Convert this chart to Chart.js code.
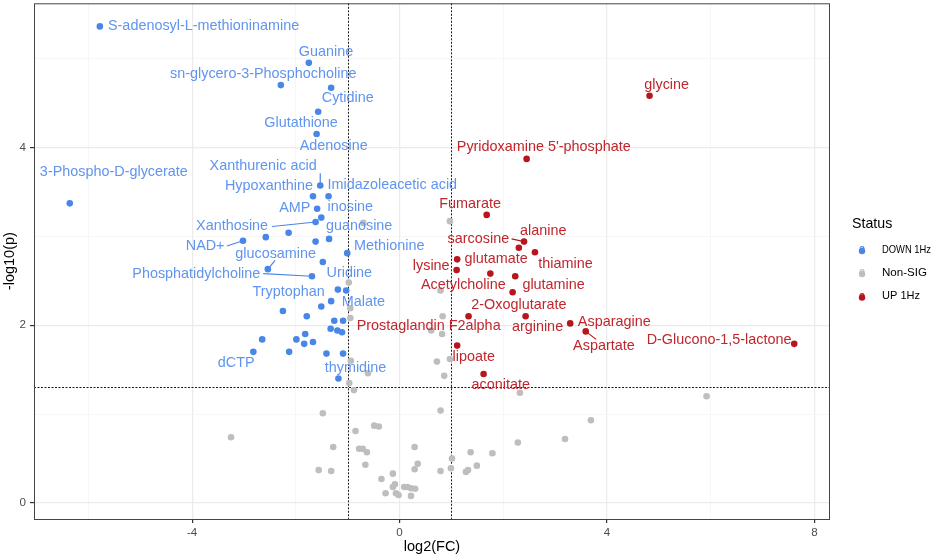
<!DOCTYPE html>
<html>
<head>
<meta charset="utf-8">
<script src="https://cdn.jsdelivr.net/npm/chart.js@4.4.0/dist/chart.umd.min.js"></script>
<style>
  body { margin: 0; background: #fff; }
  #wrap { width: 941px; height: 557px; position: relative; }
</style>
</head>
<body>
<div id="wrap"><canvas id="chart"></canvas></div>
<script>
// log2(FC) / -log10(p) per status group
var downX = [-5.78, -1.75, -2.29, -1.32, -1.57, -1.60, -6.36, -1.53, -1.67, -1.37, -1.59, -1.51, -1.62, -2.14, -2.58,
  -3.02, -1.36, -1.62, -1.01, -1.48, -2.54, -1.69, -1.19, -1.03, -1.32, -1.51, -2.25, -1.79, -1.26, -1.09,
  -1.33, -1.20, -1.11, -1.82, -2.65, -1.99, -1.84, -1.67, -2.82, -2.13, -1.41, -1.09, -1.18];
var downY = [5.36, 4.95, 4.70, 4.67, 4.40, 4.15, 3.37, 3.57, 3.45, 3.45, 3.31, 3.21, 3.16, 3.04, 2.99,
  2.95, 2.97, 2.94, 2.81, 2.71, 2.63, 2.55, 2.40, 2.39, 2.27, 2.21, 2.16, 2.10, 2.05, 2.05,
  1.96, 1.94, 1.92, 1.90, 1.84, 1.84, 1.79, 1.81, 1.70, 1.70, 1.68, 1.68, 1.40];

var upX = [4.82, 2.45, 1.68, 2.40, 2.30, 2.61, 1.11, 1.10, 1.75, 2.23, 2.18, 1.33, 2.43, 3.29, 3.59, 7.61, 1.11, 1.62];
var upY = [4.58, 3.87, 3.24, 2.94, 2.87, 2.82, 2.74, 2.62, 2.58, 2.55, 2.37, 2.10, 2.10, 2.02, 1.93, 1.79, 1.77, 1.45];

var nsX = [-0.70, 0.97, -0.98, 0.79, -0.95, -0.95, 0.83, 0.61, 0.82, -0.94, 0.72, 0.97, -0.61, 0.86, -0.97,
  -0.88, 2.32, 5.92, -1.48, 0.79, 3.69, -0.49, -0.40, -0.85, -3.25, 3.19, 2.28, -1.28, -0.78, -0.71,
  -0.63, 0.29, 1.37, 1.79, 1.01, 0.35, -0.66, 1.49, -1.56, -1.32, 0.29, 0.99, 0.79, 1.28, 1.32,
  -0.13, -0.35, -0.09, -0.13, -0.27, -0.07, -0.02, 0.09, 0.15, 0.22, 0.30, 0.22];
var nsY = [3.15, 3.17, 2.48, 2.39, 2.19, 2.08, 2.10, 1.94, 1.90, 1.60, 1.59, 1.62, 1.46, 1.43, 1.35,
  1.27, 1.24, 1.20, 1.01, 1.04, 0.93, 0.87, 0.86, 0.81, 0.74, 0.72, 0.68, 0.63, 0.61, 0.61,
  0.57, 0.63, 0.57, 0.56, 0.50, 0.44, 0.43, 0.42, 0.37, 0.36, 0.38, 0.39, 0.36, 0.35, 0.37,
  0.33, 0.27, 0.21, 0.18, 0.11, 0.11, 0.09, 0.18, 0.18, 0.165, 0.16, 0.08];

// thresholds
var fcCut = [-1, 1];
var pCut = 1.30103;

// ticks
var xTickLabels = [-4, 0, 4, 8];
var yTickLabels = [0, 2, 4];

// repelled text labels (text centre, data units)
var downNames = ['S-adenosyl-L-methioninamine', 'Guanine', 'sn-glycero-3-Phosphocholine', 'Cytidine', 'Glutathione',
  'Adenosine', '3-Phospho-D-glycerate', 'Xanthurenic acid', 'Hypoxanthine', 'Imidazoleacetic acid', 'AMP', 'inosine',
  'Xanthosine', 'guanosine', 'NAD+', 'Methionine', 'glucosamine', 'Phosphatidylcholine', 'Uridine', 'Tryptophan',
  'Malate', 'dCTP', 'thymidine'];
var downNameX = [-3.78, -1.42, -2.63, -1.00, -1.90, -1.27, -5.51, -2.63, -2.52, -0.14, -2.02, -0.95,
  -3.23, -0.78, -3.75, -0.20, -2.39, -3.92, -0.97, -2.14, -0.70, -3.15, -0.85];
var downNameY = [5.36, 5.07, 4.82, 4.55, 4.27, 4.02, 3.72, 3.79, 3.57, 3.58, 3.32, 3.33,
  3.11, 3.11, 2.89, 2.89, 2.80, 2.58, 2.59, 2.37, 2.26, 1.57, 1.52];

var upNames = ['glycine', "Pyridoxamine 5'-phosphate", 'Fumarate', 'alanine', 'sarcosine', 'glutamate', 'thiamine',
  'lysine', 'Acetylcholine', 'glutamine', '2-Oxoglutarate', 'arginine', 'Asparagine', 'Aspartate',
  'D-Glucono-1,5-lactone', 'Prostaglandin F2alpha', 'lipoate', 'aconitate'];
var upNameX = [5.15, 2.78, 1.36, 2.77, 1.52, 1.86, 3.20, 0.61, 1.23, 2.97, 2.30, 2.66, 4.14, 3.94, 6.16, 0.56, 1.43, 1.95];
var upNameY = [4.70, 4.00, 3.36, 3.06, 2.97, 2.74, 2.69, 2.67, 2.45, 2.45, 2.23, 1.98, 2.04, 1.76, 1.83, 1.99, 1.64, 1.33];

// leader segments [x1, y1, x2, y2]
var downLeaders = [[-1.53, 3.71, -1.53, 3.57], [-2.46, 3.11, -1.62, 3.16], [-3.33, 2.89, -3.02, 2.95],
  [-2.40, 2.73, -2.54, 2.63], [-2.63, 2.58, -1.69, 2.55]];
var upLeaders = [[2.16, 2.97, 2.40, 2.94], [3.59, 1.93, 3.79, 1.84]];

var statusNames = ['DOWN 1Hz', 'Non-SIG', 'UP 1Hz'];

var FONT = "'Liberation Sans', Arial, sans-serif";
var BLUE = '#4a86e8', BLUE_TXT = '#6094ee';
var GREY = '#bebebe';
var RED = '#b8161c', RED_TXT = '#c0262c';

function pts(xs, ys) {
  return xs.map(function (x, i) { return { x: x, y: ys[i] }; });
}

function isMajor(v, step) {
  return Math.abs(v / step - Math.round(v / step)) < 1e-6;
}

var overlay = {
  id: 'overlay',
  beforeDatasetsDraw: function (chart) {
    var ctx = chart.ctx, a = chart.chartArea, xs = chart.scales.x, ys = chart.scales.y;
    ctx.save();
    ctx.strokeStyle = '#1a1a1a';
    ctx.lineWidth = 1;
    ctx.setLineDash([2, 1.5]);
    fcCut.forEach(function (v) {
      var px = Math.round(xs.getPixelForValue(v)) + 0.5;
      ctx.beginPath(); ctx.moveTo(px, a.top); ctx.lineTo(px, a.bottom); ctx.stroke();
    });
    var py = Math.round(ys.getPixelForValue(pCut)) + 0.5;
    ctx.beginPath(); ctx.moveTo(a.left, py); ctx.lineTo(a.right, py); ctx.stroke();
    ctx.restore();
  },
  afterDatasetsDraw: function (chart) {
    var ctx = chart.ctx, xs = chart.scales.x, ys = chart.scales.y;
    ctx.save();
    ctx.lineWidth = 1.2;
    function leaders(list, col) {
      ctx.strokeStyle = col;
      list.forEach(function (s) {
        ctx.beginPath();
        ctx.moveTo(xs.getPixelForValue(s[0]), ys.getPixelForValue(s[1]));
        ctx.lineTo(xs.getPixelForValue(s[2]), ys.getPixelForValue(s[3]));
        ctx.stroke();
      });
    }
    leaders(downLeaders, BLUE);
    leaders(upLeaders, RED);
    ctx.font = '14.4px ' + FONT;
    ctx.textAlign = 'center';
    ctx.textBaseline = 'middle';
    ctx.fillStyle = BLUE_TXT;
    downNames.forEach(function (n, i) {
      ctx.fillText(n, xs.getPixelForValue(downNameX[i]), ys.getPixelForValue(downNameY[i]));
    });
    ctx.fillStyle = RED_TXT;
    upNames.forEach(function (n, i) {
      ctx.fillText(n, xs.getPixelForValue(upNameX[i]), ys.getPixelForValue(upNameY[i]));
    });
    ctx.restore();
  },
  afterDraw: function (chart) {
    var ctx = chart.ctx, a = chart.chartArea;
    ctx.save();
    ctx.strokeStyle = '#444';
    ctx.lineWidth = 1;
    ctx.strokeRect(a.left + 0.5, a.top + 0.5, a.right - a.left - 1, a.bottom - a.top);
    // legend
    var lx = a.right + 22;
    ctx.fillStyle = '#000';
    ctx.font = '14.2px ' + FONT;
    ctx.textAlign = 'left';
    ctx.textBaseline = 'middle';
    ctx.fillText('Status', lx, 224);
    var cols = [BLUE, GREY, RED];
    var rows = [249.5, 272.5, 296];
    var widths = [49, 45, 38];
    statusNames.forEach(function (n, i) {
      ctx.fillStyle = cols[i];
      ctx.beginPath();
      ctx.arc(lx + 10, rows[i] + 1.5, 3.2, 0, Math.PI * 2);
      ctx.fill();
      ctx.font = 'bold 11px ' + FONT;
      ctx.textAlign = 'center';
      ctx.fillText('a', lx + 10, rows[i] - 0.5);
      ctx.fillStyle = '#000';
      ctx.font = '11.6px ' + FONT;
      ctx.textAlign = 'left';
      ctx.fillText(n, lx + 30, rows[i], widths[i]);
    });
    ctx.restore();
  }
};

function noPad(s) {
  s.paddingTop = 0; s.paddingBottom = 0; s.paddingLeft = 0; s.paddingRight = 0;
}

new Chart('chart', {
  type: 'scatter',
  data: {
    datasets: [
      { label: statusNames[1], data: pts(nsX, nsY), backgroundColor: GREY },
      { label: statusNames[0], data: pts(downX, downY), backgroundColor: BLUE },
      { label: statusNames[2], data: pts(upX, upY), backgroundColor: RED }
    ]
  },
  options: {
    responsive: true,
    maintainAspectRatio: false,
    animation: false,
    devicePixelRatio: 1,
    layout: { padding: { left: 0, right: 111, top: 3, bottom: 0 } },
    elements: { point: { radius: 3.3, borderWidth: 0, hoverRadius: 3.3 } },
    plugins: { legend: { display: false }, tooltip: { enabled: false } },
    scales: {
      x: {
        type: 'linear',
        min: -7.05,
        max: 8.30,
        afterFit: function (s) { s.height = 38; noPad(s); },
        border: { display: false },
        grid: {
          color: function (c) { return isMajor(c.tick.value, 4) ? '#ebebeb' : '#f3f3f3'; },
          lineWidth: function (c) { return isMajor(c.tick.value, 4) ? 1.2 : 0.7; },
          tickLength: 4,
          tickColor: function (c) { return isMajor(c.tick.value, 4) ? '#333' : 'rgba(0,0,0,0)'; }
        },
        ticks: {
          stepSize: 2,
          includeBounds: false,
          padding: 3,
          color: '#4d4d4d',
          font: { family: FONT, size: 11.6 },
          callback: function (v) { return xTickLabels.indexOf(v) >= 0 ? String(v) : ''; }
        },
        title: { display: true, text: 'log2(FC)', color: '#000', padding: { top: 0, bottom: 1.6 }, font: { family: FONT, size: 14.5 } }
      },
      y: {
        type: 'linear',
        min: -0.18,
        max: 5.62,
        afterFit: function (s) { s.width = 34; noPad(s); },
        border: { display: false },
        grid: {
          color: function (c) { return isMajor(c.tick.value, 2) ? '#ebebeb' : '#f3f3f3'; },
          lineWidth: function (c) { return isMajor(c.tick.value, 2) ? 1.2 : 0.7; },
          tickLength: 4,
          tickColor: function (c) { return isMajor(c.tick.value, 2) ? '#333' : 'rgba(0,0,0,0)'; }
        },
        ticks: {
          stepSize: 1,
          includeBounds: false,
          padding: 4,
          color: '#4d4d4d',
          font: { family: FONT, size: 11.6 },
          callback: function (v) { return yTickLabels.indexOf(v) >= 0 ? String(v) : ''; }
        },
        title: { display: true, text: '-log10(p)', color: '#000', padding: { top: 1, bottom: 0 }, font: { family: FONT, size: 14.5 } }
      }
    }
  },
  plugins: [overlay]
});
</script>
</body>
</html>
